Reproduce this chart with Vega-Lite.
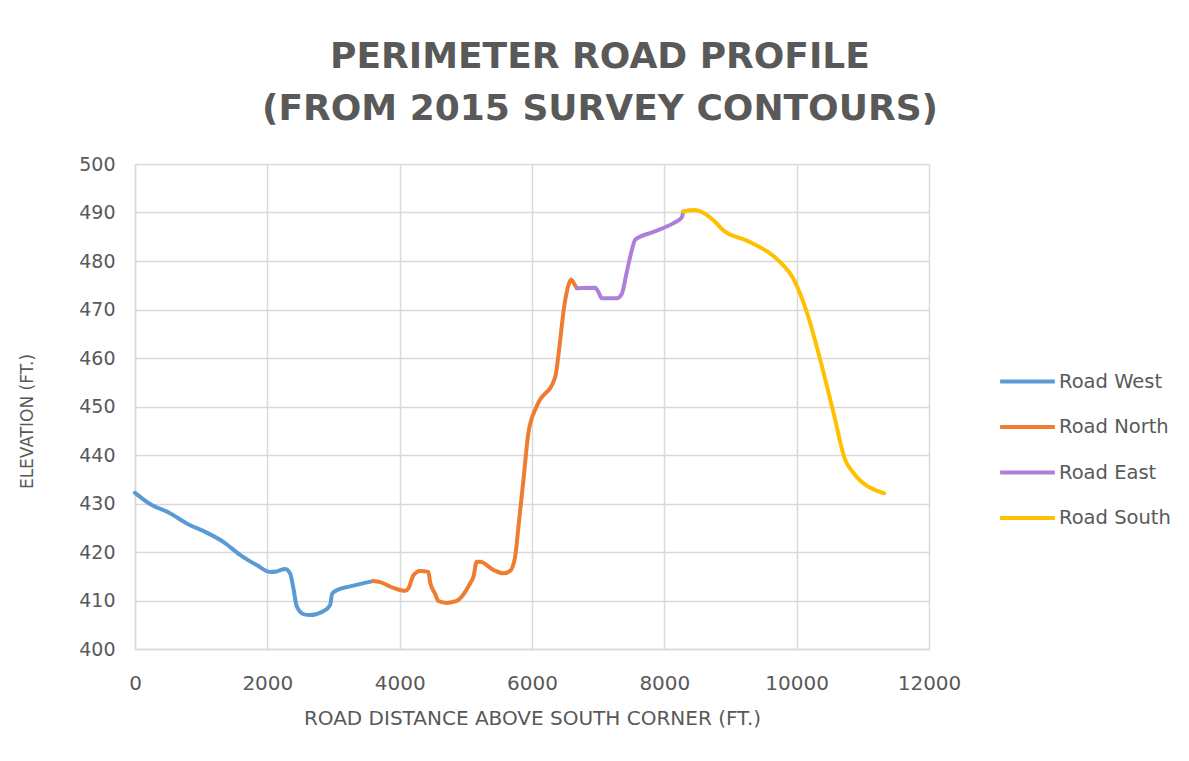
{
  "$schema": "https://vega.github.io/schema/vega-lite/v6.json",
  "width": 794,
  "height": 485,
  "autosize": {"type": "none"},
  "padding": {"left": 135, "top": 164, "right": 260, "bottom": 112},
  "background": "white",
  "title": {
    "text": ["PERIMETER ROAD PROFILE", "(FROM 2015 SURVEY CONTOURS)"],
    "font": "DejaVu Sans",
    "fontSize": 36,
    "fontWeight": "bold",
    "color": "#595959",
    "anchor": "middle",
    "dx": 68,
    "offset": 27,
    "lineHeight": 52
  },
  "data": {
    "values": [
      {"road": "Road West", "x": 0, "y": 432.2},
      {"road": "Road West", "x": 227, "y": 429.9},
      {"road": "Road West", "x": 529, "y": 428.0},
      {"road": "Road West", "x": 781, "y": 425.9},
      {"road": "Road West", "x": 1083, "y": 424.0},
      {"road": "Road West", "x": 1335, "y": 422.1},
      {"road": "Road West", "x": 1587, "y": 419.4},
      {"road": "Road West", "x": 1839, "y": 417.3},
      {"road": "Road West", "x": 2041, "y": 415.9},
      {"road": "Road West", "x": 2142, "y": 416.0},
      {"road": "Road West", "x": 2268, "y": 416.5},
      {"road": "Road West", "x": 2343, "y": 415.6},
      {"road": "Road West", "x": 2393, "y": 412.6},
      {"road": "Road West", "x": 2444, "y": 408.8},
      {"road": "Road West", "x": 2544, "y": 407.2},
      {"road": "Road West", "x": 2646, "y": 407.0},
      {"road": "Road West", "x": 2847, "y": 407.8},
      {"road": "Road West", "x": 2948, "y": 409.0},
      {"road": "Road West", "x": 2980, "y": 411.4},
      {"road": "Road West", "x": 3049, "y": 412.1},
      {"road": "Road West", "x": 3250, "y": 412.9},
      {"road": "Road West", "x": 3598, "y": 414.0},
      {"road": "Road North", "x": 3598, "y": 414.0},
      {"road": "Road North", "x": 3704, "y": 413.8},
      {"road": "Road North", "x": 3905, "y": 412.6},
      {"road": "Road North", "x": 4082, "y": 412.0},
      {"road": "Road North", "x": 4132, "y": 412.5},
      {"road": "Road North", "x": 4208, "y": 415.2},
      {"road": "Road North", "x": 4308, "y": 416.1},
      {"road": "Road North", "x": 4434, "y": 415.9},
      {"road": "Road North", "x": 4460, "y": 413.8},
      {"road": "Road North", "x": 4535, "y": 411.4},
      {"road": "Road North", "x": 4585, "y": 409.9},
      {"road": "Road North", "x": 4711, "y": 409.5},
      {"road": "Road North", "x": 4862, "y": 409.9},
      {"road": "Road North", "x": 5064, "y": 413.5},
      {"road": "Road North", "x": 5115, "y": 414.9},
      {"road": "Road North", "x": 5165, "y": 418.0},
      {"road": "Road North", "x": 5215, "y": 418.0},
      {"road": "Road North", "x": 5417, "y": 416.3},
      {"road": "Road North", "x": 5568, "y": 415.6},
      {"road": "Road North", "x": 5669, "y": 416.1},
      {"road": "Road North", "x": 5745, "y": 419.0},
      {"road": "Road North", "x": 5795, "y": 425.2},
      {"road": "Road North", "x": 5871, "y": 434.9},
      {"road": "Road North", "x": 5946, "y": 444.6},
      {"road": "Road North", "x": 6073, "y": 450.1},
      {"road": "Road North", "x": 6349, "y": 456.0},
      {"road": "Road North", "x": 6420, "y": 463.0},
      {"road": "Road North", "x": 6480, "y": 470.0},
      {"road": "Road North", "x": 6540, "y": 474.5},
      {"road": "Road North", "x": 6590, "y": 476.2},
      {"road": "Road North", "x": 6640, "y": 475.2},
      {"road": "Road North", "x": 6677, "y": 474.4},
      {"road": "Road East", "x": 6677, "y": 474.4},
      {"road": "Road East", "x": 6954, "y": 474.5},
      {"road": "Road East", "x": 7004, "y": 473.6},
      {"road": "Road East", "x": 7054, "y": 472.3},
      {"road": "Road East", "x": 7281, "y": 472.3},
      {"road": "Road East", "x": 7357, "y": 473.2},
      {"road": "Road East", "x": 7432, "y": 477.7},
      {"road": "Road East", "x": 7508, "y": 482.2},
      {"road": "Road East", "x": 7559, "y": 484.4},
      {"road": "Road East", "x": 7836, "y": 486.0},
      {"road": "Road East", "x": 8138, "y": 487.8},
      {"road": "Road East", "x": 8265, "y": 489.0},
      {"road": "Road East", "x": 8285, "y": 490.2},
      {"road": "Road South", "x": 8285, "y": 490.2},
      {"road": "Road South", "x": 8466, "y": 490.5},
      {"road": "Road South", "x": 8743, "y": 488.4},
      {"road": "Road South", "x": 8894, "y": 486.3},
      {"road": "Road South", "x": 9247, "y": 484.2},
      {"road": "Road South", "x": 9701, "y": 480.4},
      {"road": "Road South", "x": 9952, "y": 476.3},
      {"road": "Road South", "x": 10154, "y": 469.4},
      {"road": "Road South", "x": 10355, "y": 459.7},
      {"road": "Road South", "x": 10557, "y": 448.7},
      {"road": "Road South", "x": 10733, "y": 439.0},
      {"road": "Road South", "x": 10859, "y": 436.3},
      {"road": "Road South", "x": 11323, "y": 432.1}
    ]
  },
  "mark": {"type": "line", "interpolate": "monotone", "strokeWidth": 4, "strokeCap": "round"},
  "encoding": {
    "x": {
      "field": "x", "type": "quantitative",
      "scale": {"domain": [0, 12000], "nice": false},
      "axis": {
        "values": [0, 2000, 4000, 6000, 8000, 10000, 12000],
        "title": "ROAD DISTANCE ABOVE SOUTH CORNER (FT.)",
        "format": "d",
        "labelFlush": false,
        "labelPadding": 24,
        "titlePadding": 15,
        "titleFontSize": 20,
        "labelFontSize": 20
      }
    },
    "y": {
      "field": "y", "type": "quantitative",
      "scale": {"domain": [400, 500], "nice": false, "zero": false},
      "axis": {
        "values": [400, 410, 420, 430, 440, 450, 460, 470, 480, 490, 500],
        "title": "ELEVATION (FT.)",
        "labelFlush": false,
        "labelPadding": 20,
        "titlePadding": 42,
        "titleY": 257,
        "titleFontSize": 17,
        "labelFontSize": 19
      }
    },
    "color": {
      "field": "road", "type": "nominal",
      "scale": {"domain": ["Road West", "Road North", "Road East", "Road South"], "range": ["#5B9BD5", "#ED7D31", "#AE7FD9", "#FFC000"]},
      "legend": {
        "title": null,
        "orient": "none",
        "legendX": 863,
        "legendY": 188,
        "symbolType": "stroke",
        "symbolSize": 3000,
        "symbolStrokeWidth": 4,
        "labelFontSize": 19.5,
        "labelFont": "DejaVu Sans",
        "labelColor": "#595959",
        "rowPadding": 6.5,
        "labelOffset": 2
      }
    },
    "detail": {"field": "road"}
  },
  "config": {
    "view": {"stroke": null},
    "axis": {
      "grid": true,
      "gridColor": "#D9D9D9",
      "gridWidth": 1.5,
      "domainColor": "#D9D9D9",
      "domainWidth": 1.5,
      "ticks": false,
      "labelFont": "DejaVu Sans",
      "labelColor": "#595959",
      "titleFont": "DejaVu Sans",
      "titleFontWeight": "normal",
      "titleColor": "#595959"
    }
  }
}
